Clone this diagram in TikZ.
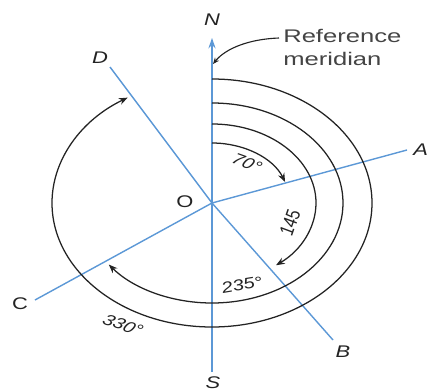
\documentclass[tikz,border=0pt]{standalone}
\usepackage{fontspec}
\setmainfont{Liberation Sans}
\usepackage{graphicx}
\usetikzlibrary{arrows.meta,calc}
\definecolor{brblue}{RGB}{92,152,214}
\definecolor{brline}{RGB}{35,35,35}
\newcommand{\wide}[2][0]{\scalebox{1.3}[1]{\rotatebox{#1}{#2}}}
\tikzset{
  brAxis/.style={draw=brblue, line width=1pt},
  brArc/.style={draw=brline, line width=0.9pt, -{Stealth[length=2.2mm,width=1.7mm]}},
  brLead/.style={draw=brline, line width=0.8pt, -{Stealth[length=1.6mm,width=1.3mm]}},
  brPoint/.style={font=\fontsize{12}{14}\selectfont\itshape, inner sep=0pt, text=brline},
  brUpright/.style={font=\fontsize{12}{14}\selectfont, inner sep=0pt, text=brline},
  brAngle/.style={font=\fontsize{11}{13}\selectfont\itshape, inner sep=0pt, text=brline},
  brNote/.style={font=\fontsize{13}{15}\selectfont, inner sep=0pt, text=brline!85}
}

\begin{document}
\begin{tikzpicture}[x=0.025cm,y=0.025cm]
  \useasboundingbox (0,0) rectangle (429,391);

  % centre and line ends
  \coordinate (O) at (212,188);
  \coordinate (Ntip) at (212,353);
  \coordinate (Send) at (212,19);
  \coordinate (Aend) at (407,241);
  \coordinate (Bend) at (333,51);
  \coordinate (Cend) at (35,91);
  \coordinate (Dend) at (110,324);
  \coordinate (merid) at (213,327);

  % meridian and lines
  \draw[brAxis, -{Stealth[length=2.6mm,width=1.8mm]}] (Send) -- (Ntip);
  \draw[brAxis] (O) -- (Aend);
  \draw[brAxis] (O) -- (Bend);
  \draw[brAxis] (O) -- (Cend);
  \draw[brAxis] (O) -- (Dend);

  % bearings, measured clockwise from north
  \draw[brArc] ($(O)+(0,60)$)  arc[start angle=90, end angle=20.5,  x radius=78,  y radius=60];
  \draw[brArc] ($(O)+(0,79)$)  arc[start angle=90, end angle=-52,   x radius=104, y radius=79];
  \draw[brArc] ($(O)+(0,100)$) arc[start angle=90, end angle=-142,  x radius=131, y radius=100];
  \draw[brArc] ($(O)+(0,124)$) arc[start angle=90, end angle=-238.2, x radius=160, y radius=124];

  % labels
  \node[brPoint] (lN) at (212,371) {\wide{N}};
  \node[brPoint] (lS) at (213,8) {\wide{S}};
  \node[brPoint, anchor=west] (lA) at (413,241) {\wide{A}};
  \node[brPoint] (lB) at (343,39) {\wide{B}};
  \node[brUpright] (lC) at (20,87) {\wide{C}};
  \node[brPoint] (lD) at (100,333) {\wide{D}};
  \node[brUpright] (lO) at (185,189) {\wide{O}};

  \node[brAngle] (a70) at (247,228) {\wide[-25]{70°}};
  \node[brAngle] (a145) at (290,168) {\wide[75]{145}};
  \node[brAngle] (a235) at (242,106) {\wide[12]{235°}};
  \node[brAngle] (a330) at (123,66) {\wide[-25]{330°}};

  \node[brNote, anchor=north west] (note) at (283,364)
    {\scalebox{1.4}[1]{\begin{tabular}{@{}l@{}}Reference\\[2pt]meridian\end{tabular}}};
  \draw[brLead] ($(note.north west)+(-4,-11)$) .. controls (250,352) and (226,343) .. (merid);
\end{tikzpicture}
\end{document}
